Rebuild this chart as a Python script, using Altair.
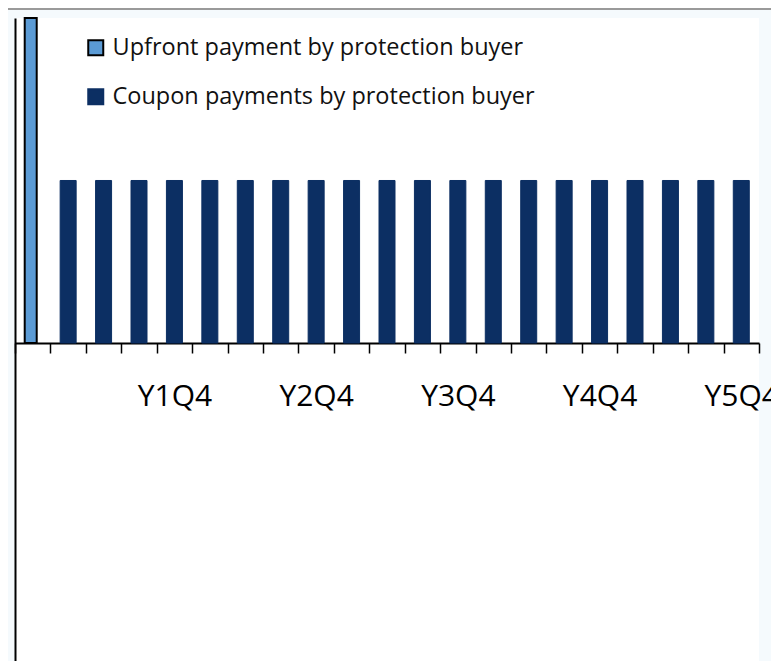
import altair as alt
import pandas as pd

# ---- data ----
periods = ["Upfront",
           "Y1Q1", "Y1Q2", "Y1Q3", "Y1Q4",
           "Y2Q1", "Y2Q2", "Y2Q3", "Y2Q4",
           "Y3Q1", "Y3Q2", "Y3Q3", "Y3Q4",
           "Y4Q1", "Y4Q2", "Y4Q3", "Y4Q4",
           "Y5Q1", "Y5Q2", "Y5Q3", "Y5Q4"]
series = ["Upfront payment by protection buyer"] + ["Coupon payments by protection buyer"] * 20
values = [2.0,
          1.0, 1.0, 1.0, 1.0,
          1.0, 1.0, 1.0, 1.0,
          1.0, 1.0, 1.0, 1.0,
          1.0, 1.0, 1.0, 1.0,
          1.0, 1.0, 1.0, 1.0]
series_order = ["Upfront payment by protection buyer", "Coupon payments by protection buyer"]
fill_colors = ["#5b9bd5", "#0c2f63"]
stroke_colors = ["#000000", "#0c2f63"]

df = pd.DataFrame({"period": periods, "series": series, "value": values})

W, H = 744, 643
Y_DOMAIN = [-1.957, 2.0]
ZERO_FROM_TOP = 325

xscale = alt.Scale(domain=periods, paddingInner=0, paddingOuter=0)

legend_cfg = dict(title=None, orient="none", legendX=69, legendY=18,
                  symbolType="square", symbolSize=225, symbolStrokeWidth=2,
                  labelFont="Open Sans", labelFontSize=23.5, labelColor="#111111",
                  labelOffset=5, rowPadding=24, padding=0, labelLimit=600)

base = alt.Chart(df).encode(
    x=alt.X("period:N", scale=xscale, sort=periods, title=None,
            axis=alt.Axis(orient="bottom", offset=-(H - ZERO_FROM_TOP),
                          tickBand="extent", tickSize=10, tickColor="black", tickWidth=1.5,
                          domainColor="black", domainWidth=2,
                          labelAngle=0, labelFont="Open Sans", labelFontSize=30,
                          labelColor="black", labelPadding=28,
                          labelExpr="indexof(datum.label, 'Q4') >= 0 ? datum.label : ''")),
    y=alt.Y("value:Q", scale=alt.Scale(domain=Y_DOMAIN, nice=False, zero=False), title=None,
            axis=alt.Axis(orient="left", ticks=False, labels=False, grid=False,
                          domainColor="black", domainWidth=2)),
    fill=alt.Fill("series:N", scale=alt.Scale(domain=series_order, range=fill_colors),
                  legend=alt.Legend(**legend_cfg)),
    stroke=alt.Stroke("series:N", scale=alt.Scale(domain=series_order, range=stroke_colors),
                      legend=alt.Legend(**legend_cfg)),
)

upfront_bar = base.mark_bar(width=12, strokeWidth=2, xOffset=-2).transform_filter(
    alt.datum.series == series_order[0])
coupon_bars = base.mark_bar(width=16, strokeWidth=1).transform_filter(
    alt.datum.series == series_order[1])

top_line = alt.Chart(pd.DataFrame({"k": [0]})).mark_rule(color="#9a9a9a", strokeWidth=2).encode(
    x=alt.value(-7), x2=alt.value(W + 12), y=alt.value(-9)
)

chart = alt.layer(upfront_bar, coupon_bars, top_line).properties(
    width=W, height=H,
    autosize=alt.AutoSizeParams(type="none"),
    padding={"left": 7, "top": 10, "right": 12, "bottom": 0},
    background="#f5fafd",
).configure_view(fill="white", stroke=None)

chart.save("out.html", embed_options={"renderer": "svg", "actions": False})
